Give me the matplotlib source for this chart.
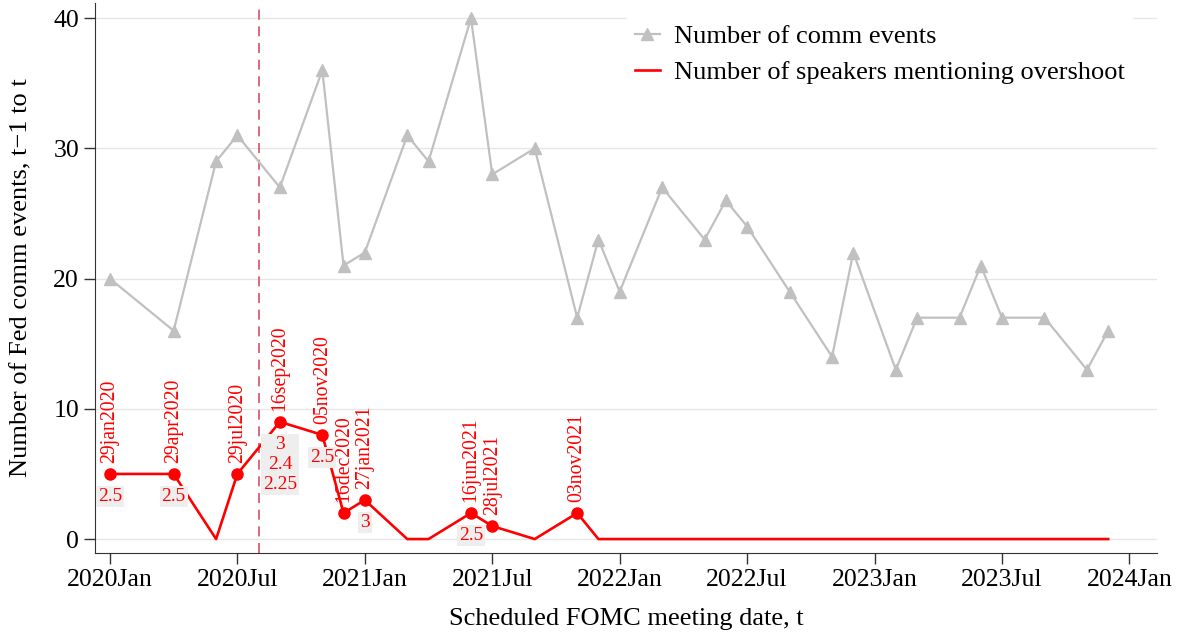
import pandas as pd
import numpy as np
import matplotlib
matplotlib.use("Agg")
import matplotlib.pyplot as plt

# scheduled FOMC meetings
meeting_dates = ["2020-01-29", "2020-04-29", "2020-06-10", "2020-07-29", "2020-09-16",
                 "2020-11-05", "2020-12-16", "2021-01-27", "2021-03-17", "2021-04-28",
                 "2021-06-16", "2021-07-28", "2021-09-22", "2021-11-03", "2021-12-15",
                 "2022-01-26", "2022-03-16", "2022-05-04", "2022-06-15", "2022-07-27",
                 "2022-09-21", "2022-11-02", "2022-12-14", "2023-02-01", "2023-03-22",
                 "2023-05-03", "2023-06-14", "2023-07-26", "2023-09-20", "2023-11-01",
                 "2023-12-13"]
comm_events = [20, 16, 29, 31, 27, 36, 21, 22, 31, 29, 40, 28, 30, 17, 23,
               19, 27, 23, 26, 24, 19, 14, 22, 13, 17, 17, 21, 17, 17, 13, 16]
overshoot = [5, 5, 0, 5, 9, 8, 2, 3, 0, 0, 2, 1, 0, 2, 0,
             0, 0, 0, 0, 0, 0, 0, 0, 0, 0, 0, 0, 0, 0, 0, 0]
# overshoot levels mentioned, by meeting
levels = {"2020-01-29": "2.5", "2020-04-29": "2.5", "2020-09-16": "3\n2.4\n2.25",
          "2020-11-05": "2.5", "2021-01-27": "3", "2021-06-16": "2.5"}
framework_date = "2020-08-01"
tick_months = ["2020-01", "2020-07", "2021-01", "2021-07", "2022-01",
               "2022-07", "2023-01", "2023-07", "2024-01"]


def month_index(d):
    d = pd.to_datetime(d)
    return (d.year - 2020) * 12 + d.month - 1


plt.rcParams['font.family'] = ['Liberation Serif', 'DejaVu Serif']

df = pd.DataFrame({'date': pd.to_datetime(meeting_dates), 'comm': comm_events, 'over': overshoot})
df['m'] = [month_index(d) for d in meeting_dates]

fig = plt.figure(figsize=(11.82, 6.32), dpi=100)
ax = fig.add_axes([0.0804, 0.125, 0.8985, 0.87])

ax.plot(df['m'], df['comm'], color='#c0c0c0', lw=1.6, marker='^', ms=9,
        label='Number of comm events', zorder=3)
ax.plot(df['m'], df['over'], color='#ff0000', lw=1.9,
        label='Number of speakers mentioning overshoot', zorder=4)

nz = df[df['over'] > 0]
ax.plot(nz['m'], nz['over'], ls='none', marker='o', ms=8, color='#ff0000', zorder=5)
for _, r in nz.iterrows():
    ax.annotate(r['date'].strftime('%d%b%Y').lower(), (r['m'], r['over']),
                xytext=(0, 8), textcoords='offset points', rotation=90,
                ha='center', va='bottom', color='#ff0000', fontsize=14.2, zorder=6)
    key = r['date'].strftime('%Y-%m-%d')
    if key in levels:
        ax.annotate(levels[key], (r['m'], r['over']), xytext=(0, -10),
                    textcoords='offset points', ha='center', va='top',
                    color='#ff0000', fontsize=14, linespacing=1.25, zorder=6,
                    bbox=dict(boxstyle='square,pad=0.1', fc='#eeeeee', ec='none'))

ax.axvline(month_index(framework_date), color='#d4506a', lw=1.2, ls=(0, (6, 4)), zorder=2)

ax.set_xlim(-0.7, 49.3)
ax.set_ylim(-1.07, 41.15)
ax.set_xticks([month_index(t + "-01") for t in tick_months])
ax.set_xticklabels([pd.to_datetime(t + "-01").strftime('%Y%b') for t in tick_months])
ax.set_yticks([0, 10, 20, 30, 40])
ax.tick_params(labelsize=18.5, length=8, width=1, color='#333333', direction='out')
ax.grid(axis='y', color='#e6e6e6', lw=1)
ax.set_axisbelow(True)
for s in ['top', 'right']:
    ax.spines[s].set_visible(False)
for s in ['left', 'bottom']:
    ax.spines[s].set_color('#333333')

ax.set_xlabel('Scheduled FOMC meeting date, t', fontsize=19, labelpad=12)
ax.set_ylabel('Number of Fed comm events, t\u22121 to t', fontsize=19, labelpad=15)

leg = ax.legend(loc='upper right', bbox_to_anchor=(0.99, 1.0), fontsize=19, frameon=True,
                fancybox=False, edgecolor='none', facecolor='white', framealpha=1,
                handlelength=0.95, handletextpad=0.55, borderpad=0.3)

fig.savefig('out.png', dpi=100)
